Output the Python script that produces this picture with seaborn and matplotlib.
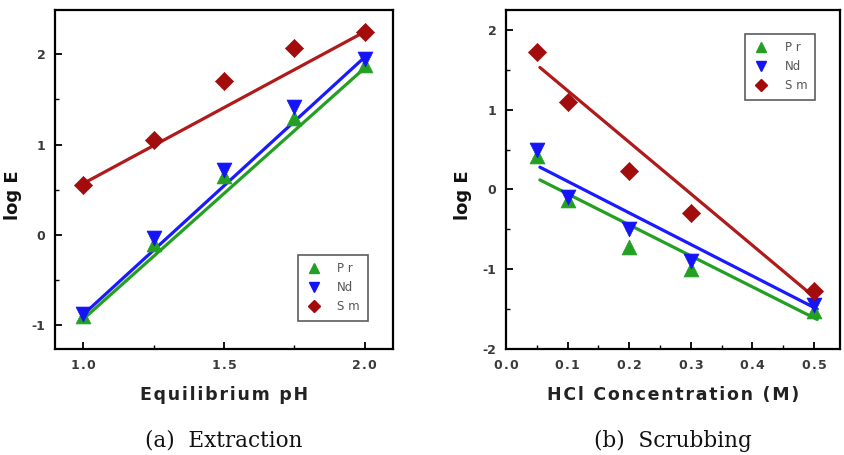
import numpy as np
import pandas as pd
import matplotlib
matplotlib.use("Agg")
import matplotlib.pyplot as plt
from matplotlib.lines import Line2D
from matplotlib.ticker import MultipleLocator, FuncFormatter
import seaborn as sns

sns.set_theme(style="white")
plt.rcParams['font.family'] = ['DejaVu Sans']

# ---- data: (a) Extraction ----
ph = [1.0, 1.25, 1.5, 1.75, 2.0]
pr_a = [-0.90, -0.10, 0.65, 1.30, 1.88]
nd_a = [-0.87, -0.03, 0.72, 1.42, 1.95]
sm_a = [0.55, 1.05, 1.70, 2.07, 2.25]
# fitted lines
fit_x_a = [1.0, 2.0]
fit_pr_a = [-0.93, 1.85]
fit_nd_a = [-0.88, 1.97]
fit_sm_a = [0.57, 2.25]

# ---- data: (b) Scrubbing ----
hcl = [0.05, 0.1, 0.2, 0.3, 0.5]
pr_b = [0.42, -0.13, -0.72, -1.00, -1.52]
nd_b = [0.50, -0.10, -0.50, -0.90, -1.45]
sm_b = [1.72, 1.10, 0.23, -0.30, -1.27]
fit_x_b = [0.055, 0.505]
fit_pr_b = [0.12, -1.63]
fit_nd_b = [0.28, -1.50]
fit_sm_b = [1.53, -1.38]

labels = ["Pr", "Nd", "Sm"]
legend_text = ["P r", "Nd", "S m"]
colors = {"Pr": "#23a023", "Nd": "#1414f5", "Sm": "#a20c0c"}
line_colors = {"Pr": "#23a023", "Nd": "#1a1aff", "Sm": "#b01a1a"}
markers = {"Pr": "^", "Nd": "v", "Sm": "D"}
msize = {"Pr": 115, "Nd": 115, "Sm": 85}

HAIR = "\u200a"

def spaced(s):
    return HAIR.join(list(s))

fig = plt.figure(figsize=(8.44, 4.55), dpi=100)
axA = fig.add_axes([55/844, 1-349/455, 338/844, 339/455])
axB = fig.add_axes([506/844, 1-349/455, 334/844, 339/455])

tick_color = "#3a3a3a"

def draw(ax, x, series, fx, fits, xlim, ylim, xmaj, xmin, ymaj, ymin, xlabel, caption,
         legloc, legbbox, ylab_x):
    for lab in ["Sm", "Nd", "Pr"]:
        d = pd.DataFrame({"x": fx, "y": fits[lab]})
        sns.lineplot(data=d, x="x", y="y", ax=ax, color=line_colors[lab], lw=2.3, zorder=2)
    for lab in labels:
        d = pd.DataFrame({"x": x, "y": series[lab]})
        sns.scatterplot(data=d, x="x", y="y", ax=ax, color=colors[lab], marker=markers[lab],
                        s=msize[lab], edgecolor=colors[lab], linewidth=0.5, zorder=3)
    ax.set_xlim(*xlim)
    ax.set_ylim(*ylim)
    ax.xaxis.set_major_locator(MultipleLocator(xmaj))
    ax.xaxis.set_minor_locator(MultipleLocator(xmin))
    ax.yaxis.set_major_locator(MultipleLocator(ymaj))
    ax.yaxis.set_minor_locator(MultipleLocator(ymin))
    ax.xaxis.set_major_formatter(FuncFormatter(lambda v, p: spaced(f"{v:.1f}")))
    ax.yaxis.set_major_formatter(FuncFormatter(lambda v, p: f"{v:.0f}"))
    ax.tick_params(which="major", direction="in", length=5, width=1.3, color="black",
                   labelsize=9, labelcolor=tick_color, bottom=True, left=True, top=False, right=False, pad=7)
    ax.tick_params(which="minor", direction="in", length=3, width=1.0, color="black",
                   bottom=True, left=True, top=False, right=False)
    for lbl in ax.get_xticklabels() + ax.get_yticklabels():
        lbl.set_fontweight("bold")
    for sp in ax.spines.values():
        sp.set_visible(True)
        sp.set_color("black")
        sp.set_linewidth(1.6)
    ax.set_xlabel(spaced(xlabel), fontsize=12.5, fontweight="bold", color="#222222", labelpad=10)
    ax.set_ylabel("log E", fontsize=13, fontweight="bold", color="#111111")
    ax.yaxis.set_label_coords(ylab_x, 0.454)
    ax.text(0.5, -0.271, caption, transform=ax.transAxes, ha="center", va="center",
            fontsize=15.5, family="DejaVu Serif", color="#111111")
    handles = [Line2D([], [], linestyle="none", marker=markers[l], color=colors[l],
                      markersize=7.5 if l != "Sm" else 6) for l in labels]
    leg = ax.legend(handles, legend_text, loc=legloc, bbox_to_anchor=legbbox, frameon=True,
                    fancybox=False, edgecolor="#333333", fontsize=8.5, handlelength=1.4,
                    handletextpad=1.3, labelspacing=0.5, borderpad=0.65, borderaxespad=0)
    leg.get_frame().set_linewidth(1.2)
    for t in leg.get_texts():
        t.set_color("#555555")

draw(axA, ph, {"Pr": pr_a, "Nd": nd_a, "Sm": sm_a}, fit_x_a,
     {"Pr": fit_pr_a, "Nd": fit_nd_a, "Sm": fit_sm_a},
     (0.9, 2.1), (-1.26, 2.49), 0.5, 0.25, 1, 0.5,
     "Equilibrium pH", "(a)  Extraction", "lower right", (0.925, 0.083), -0.098)
draw(axB, hcl, {"Pr": pr_b, "Nd": nd_b, "Sm": sm_b}, fit_x_b,
     {"Pr": fit_pr_b, "Nd": fit_nd_b, "Sm": fit_sm_b},
     (0.0, 0.542), (-2.0, 2.25), 0.1, 0.05, 1, 0.5,
     "HCl Concentration (M)", "(b)  Scrubbing", "upper right", (0.925, 0.93), -0.102)

fig.savefig("out.png", dpi=100)
